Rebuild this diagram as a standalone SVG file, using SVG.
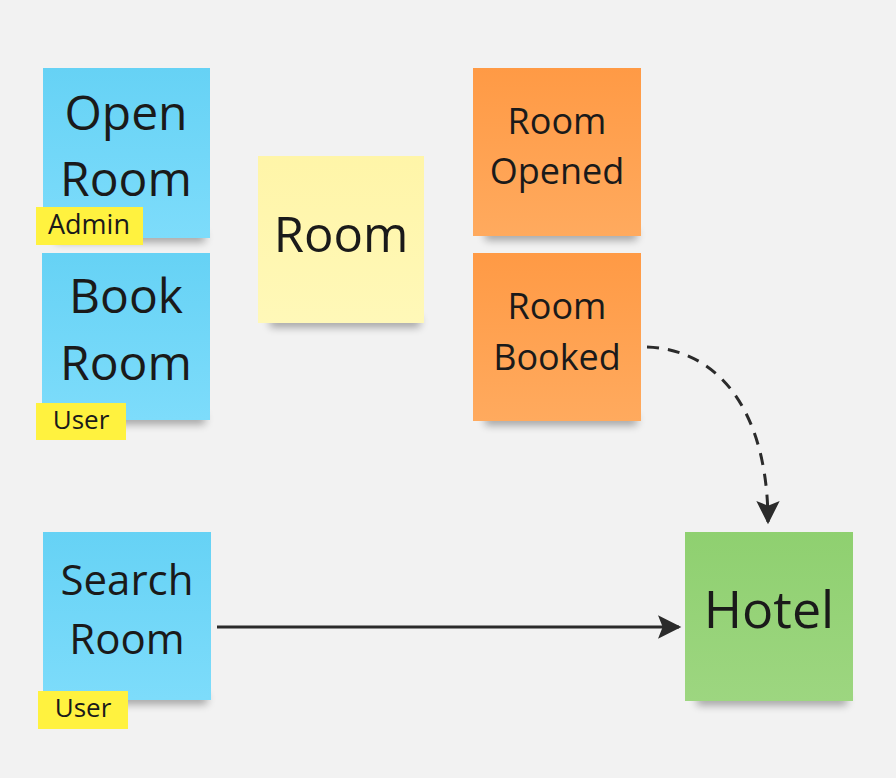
<svg xmlns="http://www.w3.org/2000/svg" width="896" height="778" viewBox="0 0 896 778">
<defs>
<filter id="blur" x="-20%" y="-100%" width="140%" height="300%"><feGaussianBlur stdDeviation="4"/></filter>
<linearGradient id="gBlue" x1="0" y1="0" x2="0" y2="1"><stop offset="0" stop-color="#66d2f5"/><stop offset="1" stop-color="#7ddcfb"/></linearGradient>
<linearGradient id="gYellow" x1="0" y1="0" x2="0" y2="1"><stop offset="0" stop-color="#fff5a8"/><stop offset="1" stop-color="#fff8b8"/></linearGradient>
<linearGradient id="gOrange" x1="0" y1="0" x2="0" y2="1"><stop offset="0" stop-color="#ff9a45"/><stop offset="1" stop-color="#ffaa5e"/></linearGradient>
<linearGradient id="gGreen" x1="0" y1="0" x2="0" y2="1"><stop offset="0" stop-color="#8fd070"/><stop offset="1" stop-color="#9dd680"/></linearGradient>
<marker id="arrow2" viewBox="0 0 24 24" refX="20" refY="12" markerWidth="28" markerHeight="28" markerUnits="userSpaceOnUse" orient="auto"><path d="M2,2 L22,12 L2,22 L6,12 Z" fill="#2b2b2b"/></marker>
</defs>
<style>
text{font-family:"Open Sans","Noto Sans",sans-serif;fill:#1a1a1a;text-anchor:middle}
.shadow{fill:#000;opacity:0.35;filter:url(#blur)}
.big{font-size:48px}
.mid{font-size:36px}
.tagt{font-size:26px}
.tag{fill:#fff23f}
.conn{fill:none;stroke:#2b2b2b;stroke-width:3}
</style>
<rect width="896" height="778" fill="#f2f2f2"/>
<g id="open-room">
<rect class="shadow" x="55" y="232" width="150" height="10"/>
<rect x="43" y="68" width="167" height="170" fill="url(#gBlue)"/>
<text class="big" x="126" y="130">Open</text>
<text class="big" x="126" y="196">Room</text>
<rect class="tag" x="36" y="207" width="107" height="38"/>
<text class="tagt" x="89" y="234" style="font-size:27px">Admin</text>
</g>
<g id="book-room">
<rect class="shadow" x="55" y="414" width="150" height="10"/>
<rect x="42" y="253" width="168" height="167" fill="url(#gBlue)"/>
<text class="big" x="126" y="313">Book</text>
<text class="big" x="126" y="380">Room</text>
<rect class="tag" x="36" y="403" width="90" height="37"/>
<text class="tagt" x="81" y="429">User</text>
</g>
<g id="room">
<rect class="shadow" x="270" y="317" width="150" height="10"/>
<rect x="258" y="156" width="166" height="167" fill="url(#gYellow)"/>
<text class="big" x="341" y="252" style="font-size:49px">Room</text>
</g>
<g id="room-opened">
<rect class="shadow" x="485" y="230" width="152" height="10"/>
<rect x="473" y="68" width="168" height="168" fill="url(#gOrange)"/>
<text class="mid" x="557" y="134">Room</text>
<text class="mid" x="557" y="184">Opened</text>
</g>
<g id="room-booked">
<rect class="shadow" x="485" y="415" width="152" height="10"/>
<rect x="473" y="253" width="168" height="168" fill="url(#gOrange)"/>
<text class="mid" x="557" y="319">Room</text>
<text class="mid" x="557" y="370">Booked</text>
</g>
<g id="search-room">
<rect class="shadow" x="55" y="694" width="152" height="10"/>
<rect x="43" y="532" width="168" height="168" fill="url(#gBlue)"/>
<text class="big" x="127" y="595" style="font-size:42px">Search</text>
<text class="big" x="127" y="654" style="font-size:42px">Room</text>
<rect class="tag" x="38" y="691" width="90" height="38"/>
<text class="tagt" x="83" y="717">User</text>
</g>
<g id="hotel">
<rect class="shadow" x="697" y="695" width="150" height="10"/>
<rect x="685" y="532" width="168" height="169" fill="url(#gGreen)"/>
<text class="big" x="769" y="628" style="font-size:52px">Hotel</text>
</g>
<g id="connectors">
<path class="conn" d="M217,627 L679,627" marker-end="url(#arrow2)"/>
<path class="conn" d="M647,347 C725,350 768,420 768,522" stroke-dasharray="12,9" marker-end="url(#arrow2)"/>
</g>
</svg>
